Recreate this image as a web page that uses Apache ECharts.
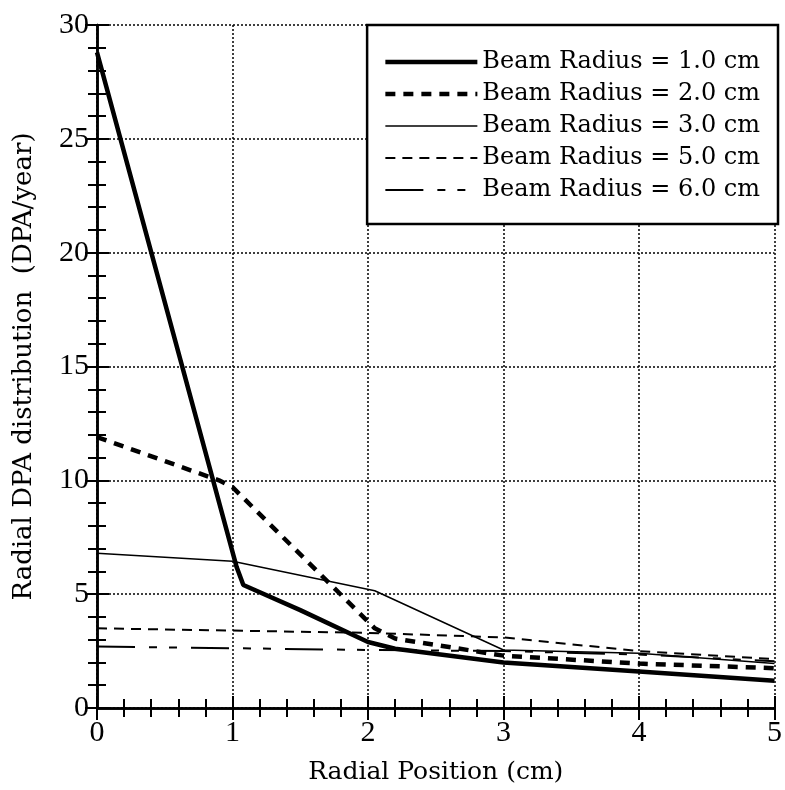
<!DOCTYPE html>
<html><head><meta charset="utf-8">
<script src="https://cdn.jsdelivr.net/npm/echarts@6/dist/echarts.min.js"></script>
<style>html,body{margin:0;padding:0;background:#fff}#c{width:785px;height:790px}</style>
</head><body><div id="c"></div>
<script>
const seriesNames = ['Beam Radius = 1.0 cm','Beam Radius = 2.0 cm','Beam Radius = 3.0 cm','Beam Radius = 5.0 cm','Beam Radius = 6.0 cm'];
const beam1X = [0, 1.03, 1.08, 1.5, 2.0, 2.2, 3.0, 4.0, 5.0];
const beam1Y = [28.8, 6.2, 5.4, 4.3, 2.9, 2.6, 2.0, 1.6, 1.2];
const beam2X = [0, 0.9, 1.0, 2.05, 2.2, 3.0, 4.0, 5.0];
const beam2Y = [11.9, 10.0, 9.7, 3.5, 3.05, 2.3, 1.95, 1.75];
const beam3X = [0, 1.0, 2.05, 3.0, 4.0, 5.0];
const beam3Y = [6.8, 6.45, 5.15, 2.55, 2.4, 1.95];
const beam5X = [0, 2, 3, 4, 5];
const beam5Y = [3.5, 3.3, 3.1, 2.5, 2.15];
const beam6X = [0, 2, 3, 4, 5];
const beam6Y = [2.7, 2.55, 2.5, 2.35, 2.05];
const xTicks = [0, 1, 2, 3, 4, 5];
const yTicks = [0, 5, 10, 15, 20, 25, 30];

const pairs = (xs, ys) => xs.map((x, i) => [x, ys[i]]);
const styles = [
  {width: 4.5, type: 'solid'},
  {width: 4.5, type: [10, 8]},
  {width: 1.5, type: 'solid'},
  {width: 2, type: [10, 7]},
  {width: 2, type: [38, 14, 8, 12, 8, 14]}
];
const data = [pairs(beam1X, beam1Y), pairs(beam2X, beam2Y), pairs(beam3X, beam3Y), pairs(beam5X, beam5Y), pairs(beam6X, beam6Y)];

const tickFont = {fontFamily: 'Liberation Serif', fontSize: 30, color: '#000'};
const axisLine = {show: true, lineStyle: {color: '#000', width: 2.5}};

const chart = echarts.init(document.getElementById('c'), null, {renderer: 'canvas'});
chart.setOption({
  animation: false,
  backgroundColor: '#fff',
  grid: {left: 97, right: 5, top: 25, bottom: 82},
  legend: {
    orient: 'vertical',
    right: 7, top: 25,
    padding: [25, 18, 22, 16],
    itemGap: 8,
    itemWidth: 92, itemHeight: 14,
    backgroundColor: '#fff',
    borderColor: '#000', borderWidth: 2.5,
    itemStyle: {color: 'rgba(0,0,0,0)', borderWidth: 0, opacity: 0},
    lineStyle: {width: 'inherit', type: 'inherit', color: '#000'},
    textStyle: {fontFamily: 'DejaVu Serif', fontSize: 24, color: '#000'},
    data: seriesNames
  },
  xAxis: [{
    type: 'value', min: 0, max: 5, interval: 1,
    name: 'Radial Position (cm)', nameLocation: 'middle', nameGap: 52,
    nameTextStyle: {fontFamily: 'DejaVu Serif', fontSize: 25, color: '#000'},
    axisLine: axisLine,
    axisTick: {inside: true, length: 12, lineStyle: {color: '#000', width: 2}},
    minorTick: {show: true, splitNumber: 5, length: 9, lineStyle: {color: '#000', width: 2}},
    axisLabel: Object.assign({margin: 10, formatter: v => xTicks.includes(v) ? String(v) : ''}, tickFont),
    splitLine: {show: true, lineStyle: {color: '#000', width: 1.5, type: [2, 2]}}
  }, {
    type: 'value', min: 0, max: 5, interval: 1, position: 'top',
    axisLine: axisLine,
    axisTick: {inside: true, length: 12, lineStyle: {color: '#000', width: 2}},
    minorTick: {show: true, splitNumber: 5, length: 9, lineStyle: {color: '#000', width: 2}},
    axisLabel: {show: false}, splitLine: {show: false}
  }],
  yAxis: [{
    type: 'value', min: 0, max: 30, interval: 5,
    name: 'Radial DPA distribution  (DPA/year)', nameLocation: 'middle', nameGap: 60,
    nameTextStyle: {fontFamily: 'DejaVu Serif', fontSize: 26, color: '#000'},
    axisLine: axisLine,
    axisTick: {inside: true, length: 12, lineStyle: {color: '#000', width: 2}},
    minorTick: {show: true, splitNumber: 5, length: 9, lineStyle: {color: '#000', width: 2}},
    axisLabel: Object.assign({margin: 8, formatter: v => yTicks.includes(v) ? String(v) : ''}, tickFont),
    splitLine: {show: true, lineStyle: {color: '#000', width: 1.5, type: [2, 2]}}
  }, {
    type: 'value', min: 0, max: 30, interval: 5, position: 'right',
    axisLine: axisLine,
    axisTick: {inside: true, length: 12, lineStyle: {color: '#000', width: 2}},
    minorTick: {show: true, splitNumber: 5, length: 9, lineStyle: {color: '#000', width: 2}},
    axisLabel: {show: false}, splitLine: {show: false}
  }],
  series: seriesNames.map((n, i) => ({
    name: n, type: 'line', xAxisIndex: 0, yAxisIndex: 0,
    data: data[i], symbol: 'none', showSymbol: false,
    color: '#000',
    lineStyle: {color: '#000', width: styles[i].width, type: styles[i].type}
  }))
});
</script></body></html>
